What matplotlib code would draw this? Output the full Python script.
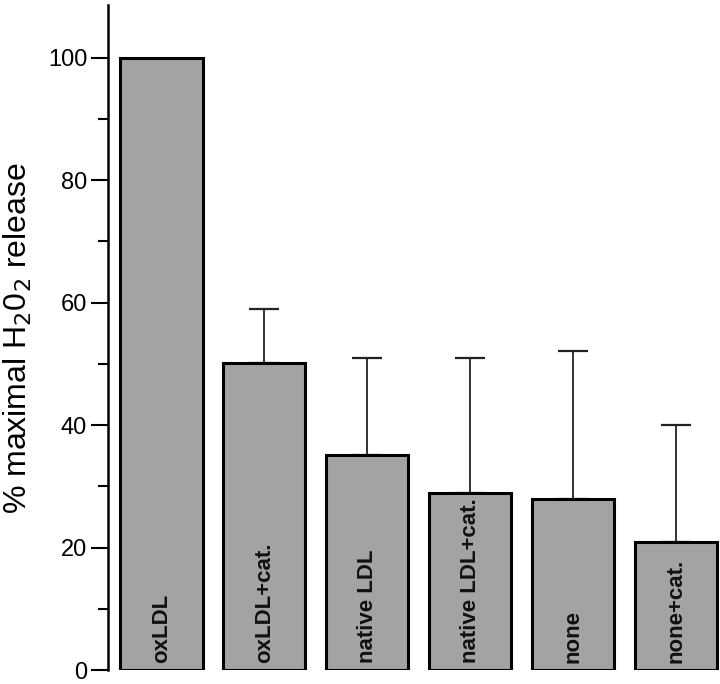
import matplotlib.pyplot as plt

plt.rcParams["font.family"] = ["Liberation Sans", "DejaVu Sans"]

# data
groups = ["oxLDL", "oxLDL+cat.", "native LDL", "native LDL+cat.", "none", "none+cat."]
release = [100, 50.1, 35.1, 28.9, 28.0, 21.0]
err_up = [0, 8.8, 15.8, 22.0, 24.1, 19.1]

fig = plt.figure(figsize=(7.2, 6.84), dpi=100)
ax = fig.add_axes([0.15, 0.02, 0.85, 0.972])

x = list(range(len(groups)))
ax.bar(x, release, width=0.8, color="#a3a3a3", edgecolor="black", linewidth=2.2, zorder=2)
ax.errorbar(x[1:], release[1:], yerr=[[0] * 5, err_up[1:]], fmt="none",
            ecolor="#222222", elinewidth=1.3, capsize=11, capthick=1.6, zorder=1)

for xi, name in zip(x, groups):
    ax.text(xi, 1.2, name, rotation=90, ha="center", va="bottom",
            fontsize=16, fontweight="bold", color="#111111", zorder=3)

ax.set_xlim(-0.52, 5.43)
ax.set_ylim(0, 108.5)
ax.set_yticks([0, 20, 40, 60, 80, 100])
ax.set_yticks([10, 30, 50, 70, 90], minor=True)
ax.tick_params(axis="y", which="major", length=12, width=1.5, labelsize=17, pad=3)
ax.tick_params(axis="y", which="minor", length=7, width=1.5)
ax.set_xticks([])
for s in ["top", "right", "bottom"]:
    ax.spines[s].set_visible(False)
ax.spines["left"].set_linewidth(1.8)
ax.set_ylabel("% maximal H$_2$0$_2$ release", fontsize=23, labelpad=10)

fig.savefig("out.png", dpi=100)
